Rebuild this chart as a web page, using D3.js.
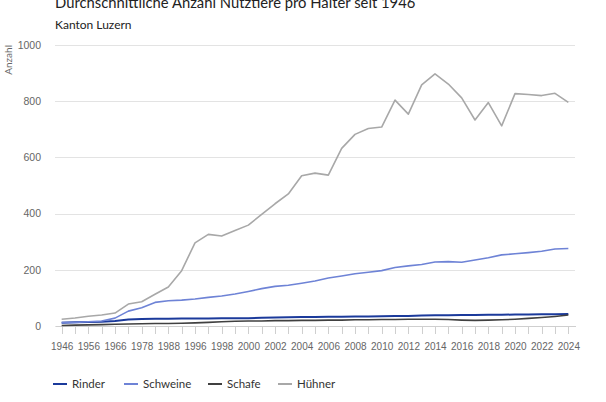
<!DOCTYPE html>
<html>
<head>
<meta charset="utf-8">
<style>
body { margin: 0; background: #fff; font-family: Lato, "Open Sans", sans-serif; }
.grid line { stroke: #e3e3e3; stroke-width: 1; shape-rendering: crispEdges; }
.grid path { stroke-width: 0; }
.yaxis text { fill: #666; font-size: 10.5px; }
.xaxis text { fill: #666; font-size: 10px; }
.xaxis line, .xaxis path { stroke: #cfcfcf; shape-rendering: crispEdges; }
.line { fill: none; stroke-linejoin: round; }
</style>
<title>Nutztiere pro Halter</title>
</head>
<body>
<script src="https://d3js.org/d3.v7.min.js"></script>
<script>

// data
const years = [1946, 1951, 1956, 1961, 1966, 1973, 1978, 1983, 1988, 1990,
  1996, 1997, 1998, 1999, 2000, 2001, 2002, 2003, 2004, 2005, 2006, 2007, 2008, 2009,
  2010, 2011, 2012, 2013, 2014, 2015, 2016, 2017, 2018, 2019, 2020, 2021, 2022, 2023, 2024];

const rinder = [12, 13, 14, 15, 18, 23, 25, 26, 26, 27,
  27, 27, 28, 28, 28, 29, 30, 31, 32, 32, 33, 33, 34, 34,
  35, 36, 36, 37, 38, 38, 39, 39, 40, 40, 41, 41, 42, 42, 43];

const schweine = [12, 13, 15, 18, 28, 53, 65, 84, 90, 92,
  96, 102, 107, 114, 123, 133, 141, 145, 152, 160, 171, 178, 186, 191,
  197, 208, 214, 219, 228, 229, 227, 235, 243, 253, 257, 261, 266, 274, 276];

const schafe = [2, 3, 4, 5, 6, 7, 8, 9, 9, 10,
  11, 13, 15, 17, 18, 18, 19, 19, 20, 20, 21, 21, 22, 22,
  23, 23, 24, 24, 24, 23, 21, 20, 21, 22, 24, 27, 30, 34, 39];

const huehner = [24, 28.5, 34.5, 39, 46, 78, 86.5, 113, 139, 197,
  296, 326, 320, 340, 359, 397, 435, 470, 535, 544, 537, 632, 682, 703,
  708, 804, 754, 858, 897, 861, 812, 733, 795, 712, 827, 824, 820, 828, 796];

const yTicks = [0, 200, 400, 600, 800, 1000];

const series = [
  {name: "Rinder", values: rinder, color: "#1b3a9b", width: 2},
  {name: "Schweine", values: schweine, color: "#6e83d6", width: 1.6},
  {name: "Schafe", values: schafe, color: "#404040", width: 1.6},
  {name: "Hühner", values: huehner, color: "#a8a8a8", width: 1.6}
];

const width = 606, height = 402;
const margin = {top: 45, right: 31, bottom: 76, left: 55};
const innerW = width - margin.left - margin.right;
const innerH = height - margin.top - margin.bottom;

const svg = d3.select("body").append("svg")
    .attr("width", width)
    .attr("height", height);

// title (cut off at the top, as in the source)
svg.append("text")
    .attr("x", 55).attr("y", 8)
    .style("font-size", "14.8px").style("fill", "#222")
    .text("Durchschnittliche Anzahl Nutztiere pro Halter seit 1946");

svg.append("text")
    .attr("x", 55).attr("y", 29)
    .style("font-size", "12px").style("fill", "#222")
    .text("Kanton Luzern");

const g = svg.append("g")
    .attr("transform", "translate(" + margin.left + "," + margin.top + ")");

const x = d3.scalePoint()
    .domain(years)
    .range([0, innerW])
    .padding(0.5);

const y = d3.scaleLinear()
    .domain([0, 1000])
    .range([innerH, 0]);

// gridlines
g.append("g")
    .attr("class", "grid")
    .call(d3.axisLeft(y).tickValues(yTicks).tickSize(-innerW).tickFormat(""));

// y labels
g.append("g")
    .attr("class", "yaxis")
    .call(d3.axisLeft(y).tickValues(yTicks).tickSize(0).tickPadding(14).tickFormat(d3.format("d")))
    .call(g => g.select(".domain").remove());

// y axis title
svg.append("text")
    .attr("transform", "translate(12," + margin.top + ") rotate(-90)")
    .attr("text-anchor", "end")
    .style("font-size", "10px").style("fill", "#666")
    .text("Anzahl");

// x axis
g.append("g")
    .attr("class", "xaxis")
    .attr("transform", "translate(0," + innerH + ")")
    .call(d3.axisBottom(x).tickSize(8).tickSizeOuter(0).tickPadding(9)
      .tickFormat((d, i) => i % 2 === 0 ? d : ""));

// lines
const line = d3.line()
    .x((d, i) => x(years[i]))
    .y(d => y(d));

series.forEach(s => {
  g.append("path")
      .attr("class", "line")
      .attr("d", line(s.values))
      .attr("stroke", s.color)
      .attr("stroke-width", s.width);
});

// legend
const legendX = [53, 124, 208, 278];
const legend = svg.append("g").attr("transform", "translate(0,384)");
series.forEach((s, i) => {
  const item = legend.append("g").attr("transform", "translate(" + legendX[i] + ",0)");
  item.append("line")
      .attr("x1", 0).attr("x2", 14)
      .attr("stroke", s.color).attr("stroke-width", 2);
  item.append("text")
      .attr("x", 19).attr("dy", "0.35em")
      .style("font-size", "11.5px").style("fill", "#333")
      .text(s.name);
});

</script>
</body>
</html>
